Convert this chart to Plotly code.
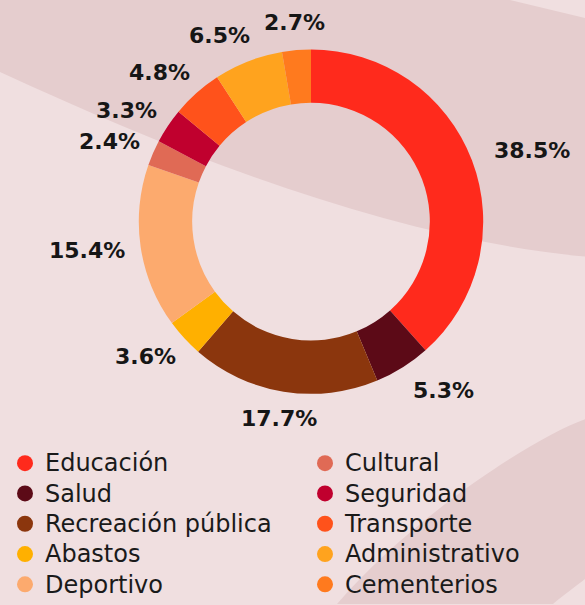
import math
import plotly.graph_objects as go

categories = ["Educación", "Salud", "Recreación pública", "Abastos", "Deportivo",
              "Cultural", "Seguridad", "Transporte", "Administrativo", "Cementerios"]
values = [38.5, 5.3, 17.7, 3.6, 15.4, 2.4, 3.3, 4.8, 6.5, 2.7]
colors = ["#ff2a1c", "#5c0a17", "#8b360d", "#ffb000", "#fcaa6e",
          "#e06a55", "#c0002e", "#ff521b", "#ffa31e", "#ff7a1e"]
legend_col1 = ["Educación", "Salud", "Recreación pública", "Abastos", "Deportivo"]
legend_col2 = ["Cultural", "Seguridad", "Transporte", "Administrativo", "Cementerios"]

W, H = 585, 605
LIGHT = "#f0dfe0"
DARK = "#e5cdce"
CX, CY, R = 311, 222, 172.5  # pie centre / radius in pixels
LABEL_R = 200                 # radius of the label anchor ring


def P(x, y):
    return f"{x / W:.4f},{1 - y / H:.4f}"


band_top = (f"M {P(0, 0)} L {P(510, 0)} L {P(585, 18)} L {P(585, 257)} "
            f"C {P(400, 240)} {P(190, 160)} {P(0, 72)} Z")
band_bottom = (f"M {P(585, 420)} C {P(530, 440)} {P(410, 520)} {P(337, 605)} "
               f"L {P(553, 605)} C {P(565, 595)} {P(575, 588)} {P(585, 580)} Z")

fig = go.Figure()

fig.add_trace(go.Pie(
    labels=categories,
    values=values,
    marker=dict(colors=colors, line=dict(width=0)),
    hole=0.69,
    sort=False,
    direction="clockwise",
    rotation=0,
    textinfo="none",
    domain=dict(x=[(CX - R) / W, (CX + R) / W],
                y=[(H - CY - R) / H, (H - CY + R) / H]),
    showlegend=False,
    hoverinfo="label+percent",
))

# percentage labels placed outside each slice at its mid-angle (derived from the values)
total = sum(values)
annotations = []
cum = 0.0
for v in values:
    theta = 2 * math.pi * (cum + v / 2) / total
    cum += v
    s, c = math.sin(theta), math.cos(theta)
    px = CX + LABEL_R * s
    py = CY - LABEL_R * c
    if abs(s) < 0.2:
        xa, ax = "center", px
    elif s > 0:
        xa, ax = "left", px - 6
    else:
        xa, ax = "right", px + 14
    annotations.append(dict(
        x=ax / W, y=1 - py / H, xref="paper", yref="paper",
        text=f"{v:.1f}%", showarrow=False, xanchor=xa, yanchor="middle",
        font=dict(family="DejaVu Sans", size=22, color="#161616", weight="bold"),
    ))

col_of = {c: colors[categories.index(c)] for c in categories}
for name in legend_col1:
    fig.add_trace(go.Scatter(x=[None], y=[None], mode="markers",
                             name=f"<span style='font-size:24px'>{name}</span>",
                             marker=dict(size=17, color=col_of[name]), legend="legend"))
for name in legend_col2:
    fig.add_trace(go.Scatter(x=[None], y=[None], mode="markers",
                             name=f"<span style='font-size:24px'>{name}</span>",
                             marker=dict(size=17, color=col_of[name]), legend="legend2"))

legend_common = dict(
    font=dict(family="DejaVu Sans", size=21, color="#1a1a1a"),
    bgcolor="rgba(0,0,0,0)", borderwidth=0, orientation="v",
    xanchor="left", yanchor="top", itemclick=False, itemdoubleclick=False,
)

fig.update_layout(
    width=W, height=H,
    margin=dict(l=0, r=0, t=0, b=0),
    paper_bgcolor=LIGHT,
    plot_bgcolor="rgba(0,0,0,0)",
    xaxis=dict(visible=False, range=[0, 1]),
    yaxis=dict(visible=False, range=[0, 1]),
    shapes=[
        dict(type="path", path=band_top, xref="paper", yref="paper",
             fillcolor=DARK, line=dict(width=0), layer="below"),
        dict(type="path", path=band_bottom, xref="paper", yref="paper",
             fillcolor=DARK, line=dict(width=0), layer="below"),
    ],
    annotations=annotations,
    legend=dict(x=5 / W, y=1 - 444 / H, **legend_common),
    legend2=dict(x=305 / W, y=1 - 444 / H, **legend_common),
    showlegend=True,
)

fig.write_html(
    "out.html",
    config={"displayModeBar": False},
    post_script="document.body.style.margin='0';document.body.style.padding='0';"
                "document.body.style.overflow='hidden';",
)
